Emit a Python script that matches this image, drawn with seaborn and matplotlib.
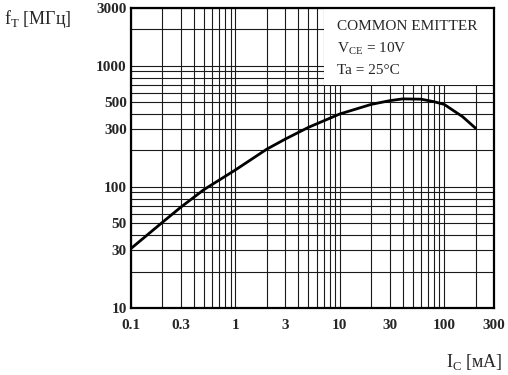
import matplotlib
matplotlib.use("Agg")
import matplotlib.pyplot as plt
import seaborn as sns
import pandas as pd
from matplotlib.patches import Rectangle
from matplotlib.ticker import FixedLocator, LogLocator, NullFormatter

# Data
ic_ma = [0.1, 0.2, 0.3, 0.5, 1, 2, 3, 5, 10, 20, 30, 40, 60, 80, 100, 120, 150, 200]
ft_mhz = [31, 51, 68, 95, 138, 205, 248, 310, 400, 480, 515, 533, 530, 505, 480, 432, 380, 305]
x_ticks = [0.1, 0.3, 1, 3, 10, 30, 100, 300]
x_tick_labels = ["0.1", "0.3", "1", "3", "10", "30", "100", "300"]
y_ticks = [10, 30, 50, 100, 300, 500, 1000, 3000]
y_tick_labels = ["10", "30", "50", "100", "300", "500", "1000", "3000"]
box_lines = ["COMMON EMITTER", r"V$_\mathregular{CE}$ = 10V", "Ta = 25°C"]

sns.set_style("white")
plt.rcParams["font.family"] = ["Liberation Serif", "DejaVu Serif"]
plt.rcParams["mathtext.fontset"] = "custom"
plt.rcParams["mathtext.rm"] = "Liberation Serif"

df = pd.DataFrame({"Ic": ic_ma, "fT": ft_mhz})

fig = plt.figure(figsize=(5.08, 3.75), dpi=100)
ax = fig.add_axes([131 / 508, 1 - 308 / 375, 363 / 508, 300 / 375])

sns.lineplot(data=df, x="Ic", y="fT", ax=ax, color="black", linewidth=2.0, zorder=3)

ax.set_xscale("log")
ax.set_yscale("log")
ax.set_xlim(0.1, 300)
ax.set_ylim(10, 3000)

ax.xaxis.set_major_locator(FixedLocator(x_ticks))
ax.set_xticklabels(x_tick_labels)
ax.yaxis.set_major_locator(FixedLocator(y_ticks))
ax.set_yticklabels(y_tick_labels)
ax.xaxis.set_minor_locator(LogLocator(base=10, subs=range(1, 10), numticks=20))
ax.yaxis.set_minor_locator(LogLocator(base=10, subs=range(1, 10), numticks=20))
ax.xaxis.set_minor_formatter(NullFormatter())
ax.yaxis.set_minor_formatter(NullFormatter())

ax.grid(True, which="both", color="#1a1a1a", linewidth=0.8)
ax.set_axisbelow(True)
ax.tick_params(which="both", length=0, labelsize=11)
ax.tick_params(axis="x", pad=8)
ax.tick_params(axis="y", pad=3)
for lab in ax.get_xticklabels() + ax.get_yticklabels():
    lab.set_fontweight("bold")

for s in ax.spines.values():
    s.set_color("black")
    s.set_linewidth(1.6)

ax.set_xlabel("")
ax.set_ylabel("")

# white legend box in the upper right
ax.add_patch(Rectangle((7, 700), 300 - 7, 3000 - 700, facecolor="white",
                       edgecolor="none", zorder=2))

fig.text(337 / 508, 1 - 27 / 375, box_lines[0], fontsize=11, va="center", ha="left")
fig.text(337 / 508, 1 - 49 / 375, box_lines[1], fontsize=11, va="center", ha="left")
fig.text(337 / 508, 1 - 70 / 375, box_lines[2], fontsize=11, va="center", ha="left")

fig.text(4 / 508, 1 - 19 / 375, r"f$_\mathregular{T}$ [МГц]", fontsize=13, va="center", ha="left")
fig.text(503 / 508, 1 - 362 / 375, r"I$_\mathregular{C}$ [мА]", fontsize=13, va="center", ha="right")

fig.savefig("out.png", dpi=100)
